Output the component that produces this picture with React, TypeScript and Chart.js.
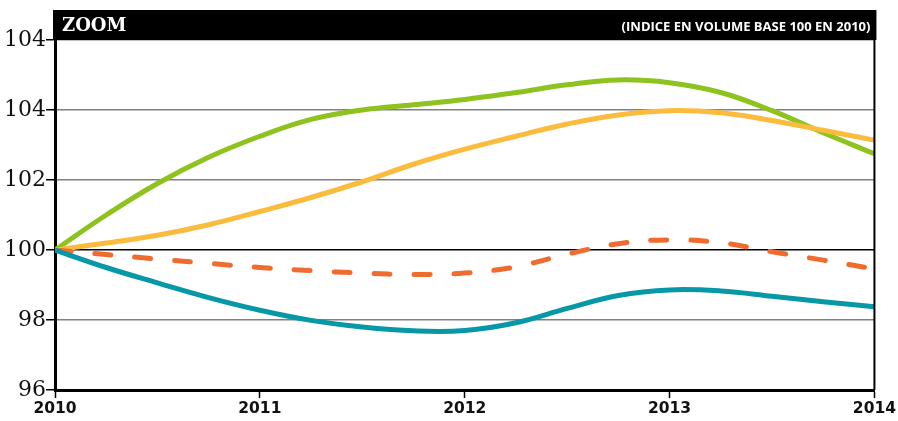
import React, { useEffect, useRef } from "react";
import { Chart, registerables } from "chart.js";

Chart.register(...registerables);

const years = [2010, 2010.25, 2010.5, 2010.75, 2011, 2011.25, 2011.5, 2011.75, 2012, 2012.25, 2012.5, 2012.75, 2013, 2013.25, 2013.5, 2013.75, 2014];
const greenValues = [100, 101.0, 101.9, 102.65, 103.25, 103.73, 104.0, 104.15, 104.3, 104.5, 104.72, 104.86, 104.78, 104.5, 103.98, 103.35, 102.75];
const yellowValues = [100, 100.2, 100.42, 100.72, 101.1, 101.5, 101.95, 102.45, 102.88, 103.25, 103.6, 103.86, 103.98, 103.92, 103.7, 103.42, 103.14];
const dashedValues = [100, 99.87, 99.74, 99.62, 99.5, 99.41, 99.34, 99.3, 99.34, 99.52, 99.88, 100.18, 100.29, 100.21, 99.95, 99.71, 99.46];
const tealValues = [100, 99.5, 99.06, 98.64, 98.28, 97.99, 97.8, 97.69, 97.7, 97.92, 98.33, 98.7, 98.86, 98.83, 98.68, 98.52, 98.38];
const yTickLabels: Record<number, string> = { 96: "96", 98: "98", 100: "100", 102: "102", 104: "104", 106: "104" };
const xTickLabels: Record<number, string> = { 2010: "2010", 2011: "2011", 2012: "2012", 2013: "2013", 2014: "2014" };
const titleText = "ZOOM";
const subtitleText = "(INDICE EN VOLUME BASE 100 EN 2010)";

const toPoints = (vals: number[]) => vals.map((v, i) => ({ x: years[i], y: v }));

const frame = {
  id: "frame",
  afterDraw(chart: any) {
    const { ctx, chartArea } = chart;
    const { left, right, top, bottom } = chartArea;
    ctx.save();
    ctx.fillStyle = "#000";
    ctx.fillRect(left - 2, 10, right - left + 4, top - 10);
    ctx.strokeStyle = "#000";
    ctx.lineWidth = 2;
    ctx.beginPath();
    ctx.moveTo(right, top);
    ctx.lineTo(right, bottom);
    ctx.stroke();
    ctx.fillStyle = "#fff";
    ctx.textBaseline = "middle";
    ctx.textAlign = "left";
    ctx.font = "bold 18px 'DejaVu Serif'";
    ctx.fillText(titleText, left + 7, 26);
    ctx.textAlign = "right";
    ctx.font = "bold 13px 'Open Sans'";
    ctx.fillText(subtitleText, right - 4, 27);
    ctx.restore();
  },
};

export default function App() {
  const ref = useRef<HTMLCanvasElement>(null);
  useEffect(() => {
    const common = { borderWidth: 5, pointRadius: 0, tension: 0.4, fill: false };
    const chart = new Chart(ref.current!, {
      type: "line",
      data: {
        datasets: [
          { ...common, data: toPoints(tealValues), borderColor: "#0798a8" },
          { ...common, data: toPoints(dashedValues), borderColor: "#ef6b2e", borderDash: [16, 24], borderCapStyle: "round" },
          { ...common, data: toPoints(yellowValues), borderColor: "#fbbb3c" },
          { ...common, data: toPoints(greenValues), borderColor: "#8ec21f" },
        ],
      },
      options: {
        animation: false,
        responsive: false,
        layout: { padding: { left: 0, right: 22, top: 40, bottom: 0 } },
        plugins: { legend: { display: false }, tooltip: { enabled: false } },
        scales: {
          x: {
            type: "linear",
            min: 2010,
            max: 2014,
            ticks: {
              stepSize: 1,
              color: "#111",
              font: { family: "'DejaVu Sans'", weight: "bold", size: 15.5 },
              padding: 2,
              callback: (v: any) => xTickLabels[v] ?? "",
              maxRotation: 0,
            },
            grid: { drawOnChartArea: false, drawTicks: true, tickLength: 8, tickColor: "#000", tickWidth: 1.5 },
            border: { color: "#000", width: 3 },
            afterFit: (s: any) => { s.height = 31; },
          },
          y: {
            min: 96,
            max: 106,
            ticks: {
              stepSize: 2,
              color: "#111",
              font: { family: "'DejaVu Serif'", size: 22 },
              padding: 0,
              callback: (v: any) => yTickLabels[v] ?? "",
            },
            grid: {
              color: (c: any) => (c.tick && c.tick.value === 100 ? "#000" : "#808080"),
              lineWidth: 1.5,
              tickLength: 9,
              tickColor: "#000",
            },
            border: { color: "#000", width: 3 },
            afterFit: (s: any) => { s.width = 55; },
          },
        },
      },
      plugins: [frame],
    } as any);
    return () => chart.destroy();
  }, []);
  return (
    <div style={{ position: "fixed", left: 0, top: 0, width: 898, height: 421, background: "#fff" }}>
      <canvas ref={ref} width={898} height={421} />
    </div>
  );
}
